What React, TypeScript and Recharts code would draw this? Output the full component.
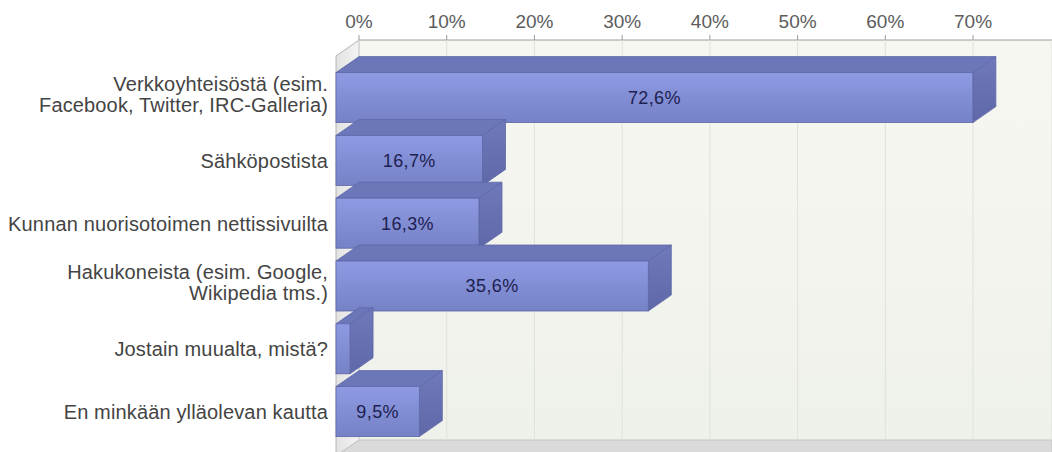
import { BarChart, Bar, XAxis, YAxis, CartesianGrid, LabelList } from "recharts";

const categories = [
  "Verkkoyhteisöstä (esim.\nFacebook, Twitter, IRC-Galleria)",
  "Sähköpostista",
  "Kunnan nuorisotoimen nettissivuilta",
  "Hakukoneista (esim. Google,\nWikipedia tms.)",
  "Jostain muualta, mistä?",
  "En minkään ylläolevan kautta",
];
const shares = [72.6, 16.7, 16.3, 35.6, 1.6, 9.5];
const xTicks = [0, 10, 20, 30, 40, 50, 60, 70];

const data = categories.map((name, i) => ({ name, share: shares[i] }));

// pseudo-3d depth
const DX = 23;
const DY = 16;
const W = 1052;
const H = 452;
const FRONT_LEFT = 336;
const BACK_LEFT = FRONT_LEFT + DX;
const WALL_TOP = 40;
const WALL_BOTTOM = 440;
const FONT = '"Liberation Sans", Arial, sans-serif';

function Walls() {
  return (
    <svg width={W} height={H} style={{ position: "absolute", left: 0, top: 0 }}>
      <defs>
        <linearGradient id="wall" x1="0" y1="0" x2="0" y2="1">
          <stop offset="0%" stopColor="#f7f7f1" />
          <stop offset="100%" stopColor="#eef1ea" />
        </linearGradient>
        <linearGradient id="side" x1="0" y1="0" x2="1" y2="0">
          <stop offset="0%" stopColor="#e2e2e2" />
          <stop offset="100%" stopColor="#f4f4f4" />
        </linearGradient>
      </defs>
      <rect x={BACK_LEFT} y={WALL_TOP} width={W - BACK_LEFT} height={WALL_BOTTOM - WALL_TOP} fill="url(#wall)" />
      <polygon
        points={`${FRONT_LEFT},${WALL_TOP + DY} ${BACK_LEFT},${WALL_TOP} ${BACK_LEFT},${WALL_BOTTOM} ${FRONT_LEFT},${WALL_BOTTOM + DY}`}
        fill="url(#side)"
        stroke="#b4b4b4"
      />
      <polygon
        points={`${FRONT_LEFT},${WALL_BOTTOM + DY} ${BACK_LEFT},${WALL_BOTTOM} ${W},${WALL_BOTTOM} ${W},${WALL_BOTTOM + DY}`}
        fill="#dadada"
        stroke="#c4c4c4"
      />
      <line x1={BACK_LEFT} x2={W} y1={WALL_TOP} y2={WALL_TOP} stroke="#9c9c9c" />
    </svg>
  );
}

function Bar3D(props: any) {
  const { x, y, width, height } = props;
  if (width <= 0) return null;
  const r = x + width;
  return (
    <g>
      <polygon
        points={`${x},${y} ${x + DX},${y - DY} ${r + DX},${y - DY} ${r},${y}`}
        fill="#6c77b9"
        stroke="#5d67a6"
        strokeWidth={0.8}
      />
      <polygon
        points={`${r},${y} ${r + DX},${y - DY} ${r + DX},${y + height - DY} ${r},${y + height}`}
        fill="url(#sideFace)"
        stroke="#5d67a6"
        strokeWidth={0.8}
      />
      <rect x={x} y={y} width={width} height={height} fill="url(#frontFace)" stroke="#5d67a6" strokeWidth={0.8} />
    </g>
  );
}

function XTick(props: any) {
  const { x, payload } = props;
  const bx = x + DX;
  return (
    <g>
      <line x1={bx} x2={bx} y1={WALL_TOP - 5} y2={WALL_TOP} stroke="#9c9c9c" />
      <text x={bx} y={28} textAnchor="middle" fontSize={19} fontFamily={FONT} fill="#5c5c5c">
        {payload.value}%
      </text>
    </g>
  );
}

function YTick(props: any) {
  const { y, payload } = props;
  const lines = String(payload.value).split("\n");
  const lh = 21;
  const start = lines.length > 1 ? y - 4 - ((lines.length - 1) * lh) / 2 : y;
  return (
    <text
      x={FRONT_LEFT - 8}
      y={start}
      textAnchor="end"
      fontSize={20}
      letterSpacing={0.15}
      fontFamily={FONT}
      fill="#444"
    >
      {lines.map((l, i) => (
        <tspan key={i} x={FRONT_LEFT - 8} y={start + i * lh} dy="0.36em">
          {l}
        </tspan>
      ))}
    </text>
  );
}

function ValueLabel(props: any) {
  const { x, y, width, height, value } = props;
  if (width < 40) return null;
  return (
    <text
      x={x + width / 2}
      y={y + height / 2}
      dy="0.36em"
      textAnchor="middle"
      fontSize={18}
      letterSpacing={0.4}
      fontFamily={FONT}
      fill="#1d2050"
    >
      {String(value).replace(".", ",")}%
    </text>
  );
}

function GridLine(props: any) {
  const { x1, x2 } = props;
  return <line x1={x1 + DX} x2={x2 + DX} y1={WALL_TOP} y2={WALL_BOTTOM} stroke="#dfe2da" />;
}

export default function App() {
  return (
    <div style={{ position: "relative", width: W, height: H, background: "#fff" }}>
      <style>{"body{margin:0}"}</style>
      <Walls />
      <div style={{ position: "absolute", left: 0, top: 0 }}>
        <BarChart
          width={W}
          height={H}
          data={data}
          layout="vertical"
          margin={{ top: 36.6, right: 23, bottom: 8.6, left: 0 }}
        >
          <defs>
            <linearGradient id="frontFace" x1="0" y1="0" x2="0" y2="1">
              <stop offset="0%" stopColor="#8e9ae2" />
              <stop offset="100%" stopColor="#7682c6" />
            </linearGradient>
            <linearGradient id="sideFace" x1="0" y1="0" x2="0" y2="1">
              <stop offset="0%" stopColor="#6f79bb" />
              <stop offset="100%" stopColor="#5f69a9" />
            </linearGradient>
          </defs>
          <CartesianGrid horizontal={false} vertical={GridLine} />
          <XAxis
            type="number"
            orientation="top"
            domain={[0, 79]}
            ticks={xTicks}
            height={30}
            axisLine={false}
            tickLine={false}
            tick={XTick}
          />
          <YAxis
            type="category"
            dataKey="name"
            width={336}
            interval={0}
            axisLine={false}
            tickLine={false}
            tick={YTick}
          />
          <Bar dataKey="share" barSize={50} shape={Bar3D} isAnimationActive={false}>
            <LabelList dataKey="share" content={ValueLabel} />
          </Bar>
        </BarChart>
      </div>
    </div>
  );
}
